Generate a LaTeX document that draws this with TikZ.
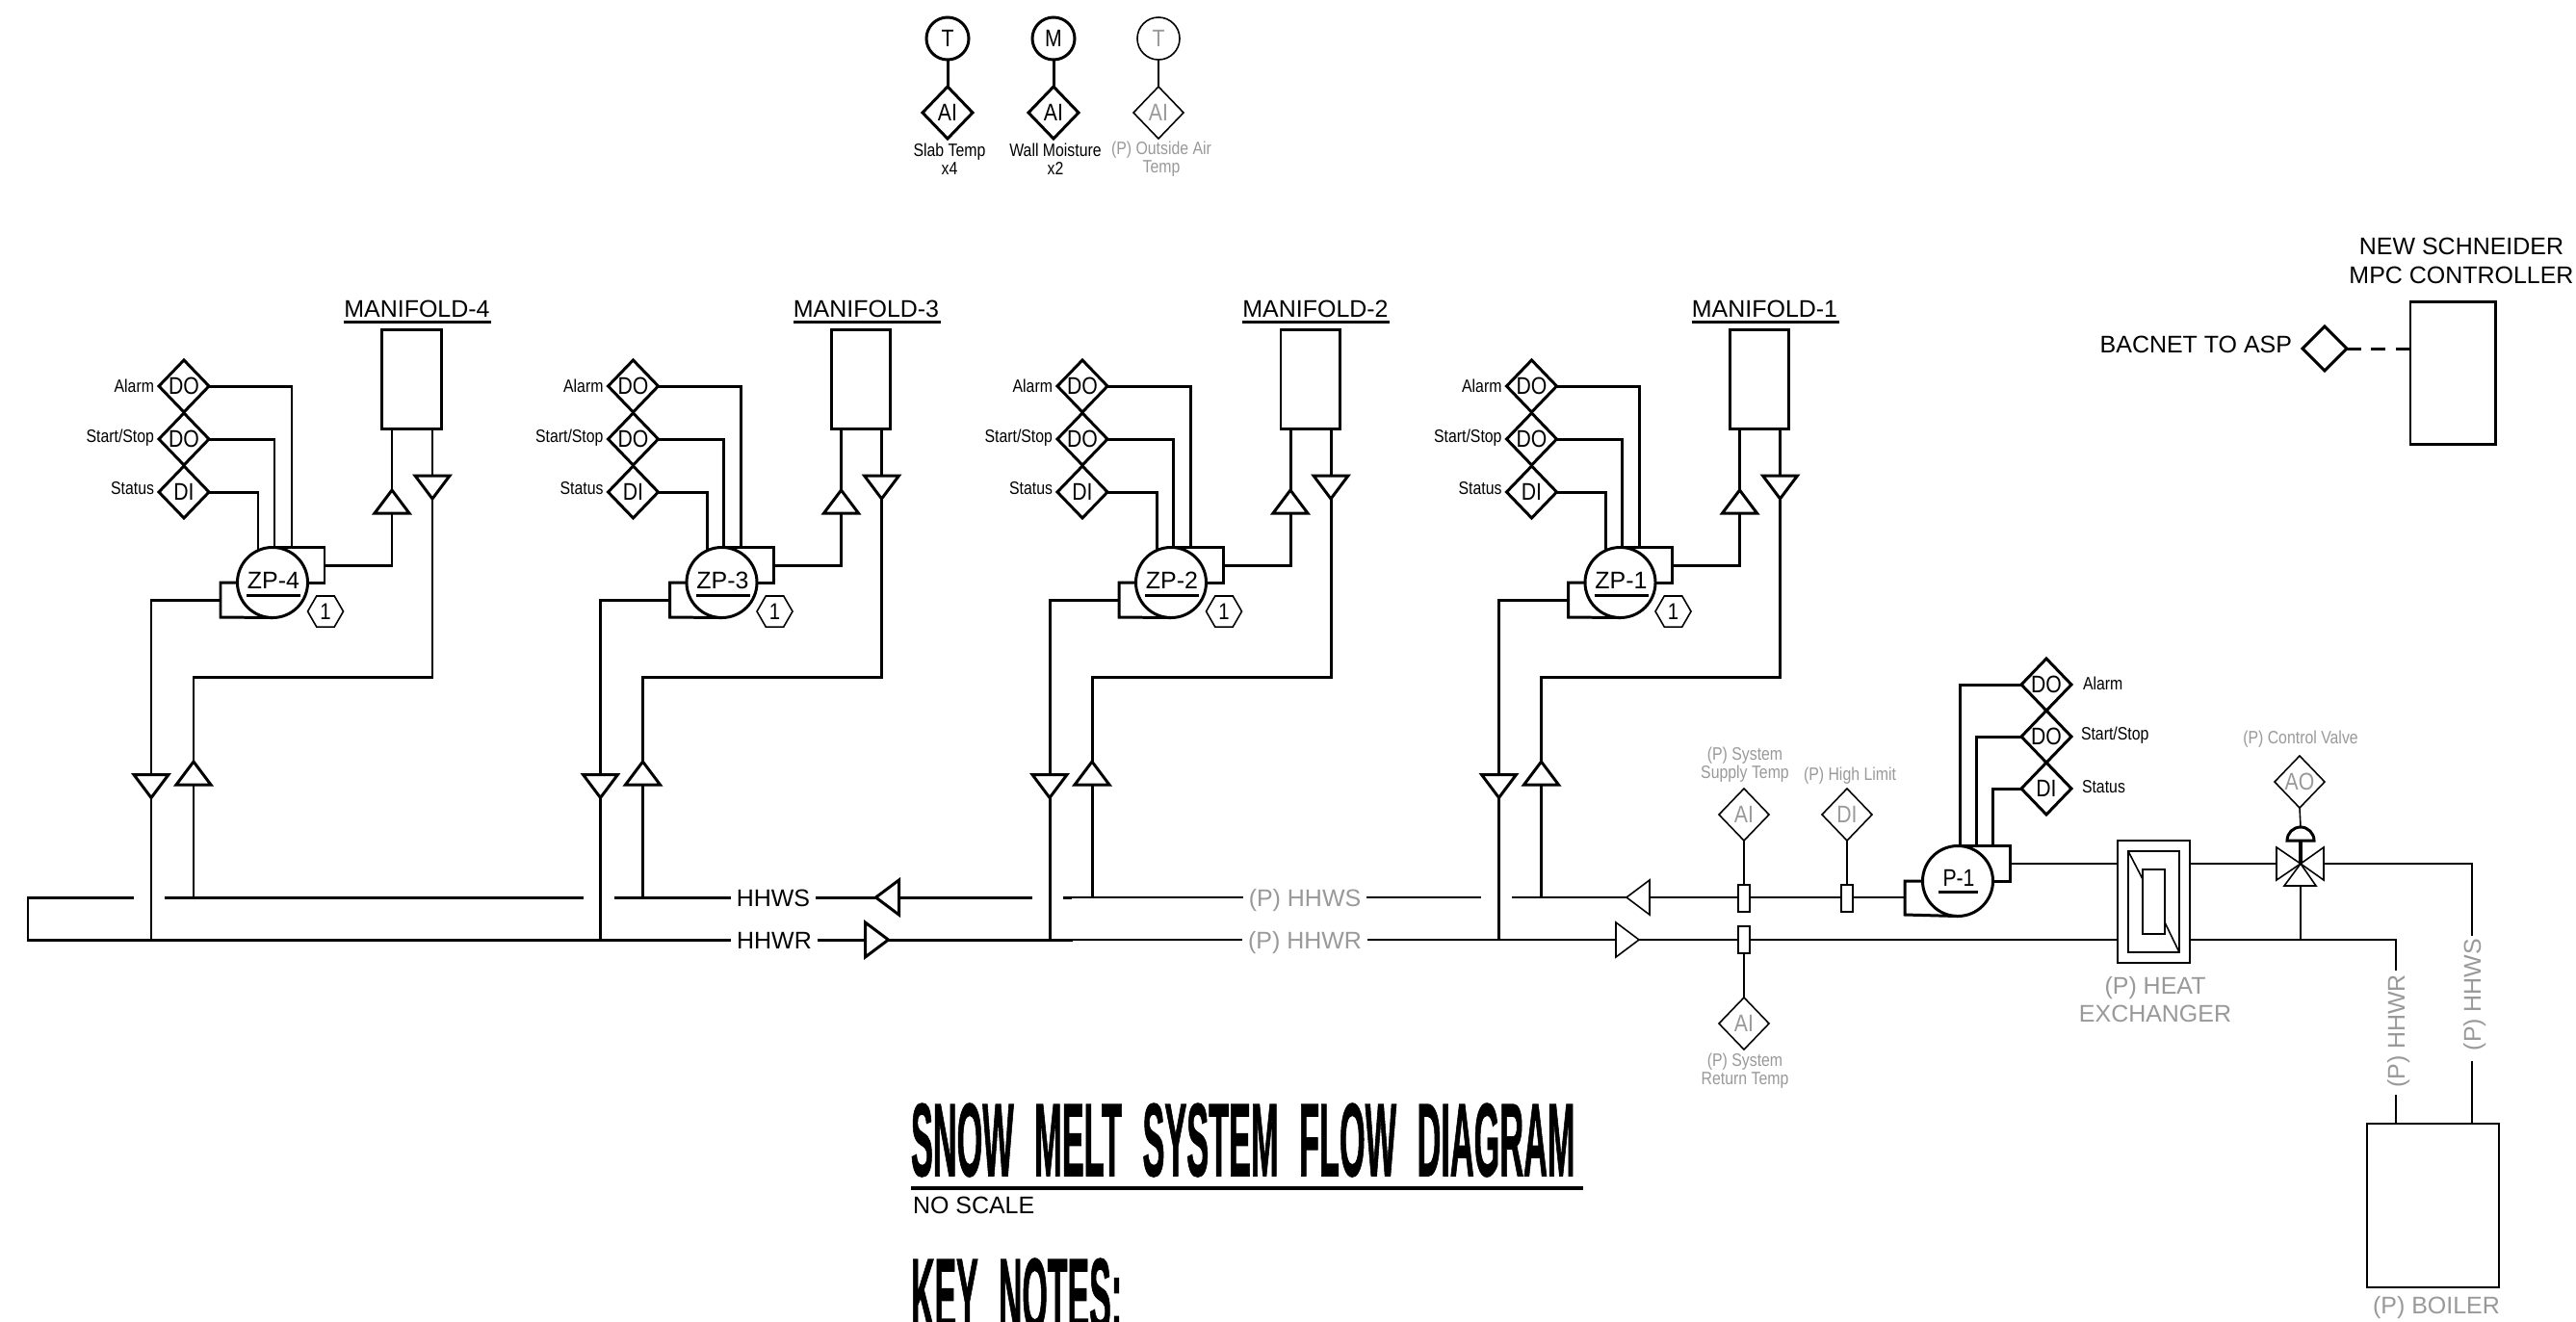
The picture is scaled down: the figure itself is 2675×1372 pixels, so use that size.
\documentclass[tikz,border=0pt]{standalone}
\usepackage{fontspec}
\setmainfont{Liberation Sans}
\newfontfamily\ttlfont[FakeBold=1.5]{Liberation Sans Bold}
\newfontfamily\nrwfont[FakeStretch=.85]{Liberation Sans}
\usetikzlibrary{shapes.geometric}
\definecolor{pgray}{HTML}{999999}
\tikzset{
  pipe/.style={line width=.85pt},
  pthin/.style={line width=.45pt},
  dgm/.style={diamond, draw, pipe, minimum width=.52cm, minimum height=.54cm,
    inner sep=0, outer sep=0, font=\nrwfont\fontsize{7.1}{8}\selectfont},
  dgmp/.style={dgm, pthin, text=pgray},
  inst/.style={circle, draw, pipe, minimum size=.44cm, inner sep=0, outer sep=0,
    font=\nrwfont\fontsize{7.1}{8}\selectfont},
  pmp/.style={circle, draw, pipe, minimum size=.73cm, inner sep=0, outer sep=0},
  box/.style={rectangle, draw, inner sep=0, outer sep=0},
  flg/.style={box, pthin, fill=white, minimum width=.12cm, minimum height=.28cm},
  txtl/.style={inner sep=0, outer sep=0, align=center,
    font=\fontsize{7.1}{8.4}\selectfont},
  txts/.style={inner sep=0, outer sep=0, align=center,
    font=\nrwfont\fontsize{5.3}{5.5}\selectfont},
  pipelbl/.style={txtl, inner xsep=.06cm},
  flowtri/.pic={\draw[fill=white] (0,-12) -- (18,12) -- (-18,12) -- cycle;}
}
\begin{document}
\begin{tikzpicture}[x=0.01cm, y=-0.01cm]
  \useasboundingbox (0,0) rectangle (2675,1372);

  % Sensors at the top
  \foreach \n/\x/\t/\a/\b in {t/984/T/Slab Temp/x4, m/1094/M/Wall Moisture/x2}{
    \node[inst] (snr\n) at (\x,40) {\t};
    \node[dgm] (ai\n) at (\x,117) {AI};
    \draw[pipe] (snr\n) -- (ai\n);
    \node[txts] (txt\n) at (\x+2,165) {\a\\\b};
  }
  \node[inst, pthin, text=pgray] (snro) at (1203,40) {T};
  \node[dgmp] (aio) at (1203,117) {AI};
  \draw[pthin] (snro) -- (aio);
  \node[txts, text=pgray] (txto) at (1206,165) {(P) Outside Air\\Temp};

  % Controller
  \node[txtl] (mpctxt) at (2556,271) {NEW SCHNEIDER\\MPC CONTROLLER};
  \node[box, pipe, minimum width=.88cm, minimum height=1.47cm] (mpc) at (2547,387.5) {};
  \node[dgm, minimum width=.46cm, minimum height=.46cm] (bac) at (2414,362) {};
  \node[txtl, anchor=east] (bactxt) at (2380,358) {BACNET TO ASP};
  \draw[pipe, dash pattern=on 4.2pt off 3pt] (bac.east) -- (bac.east -| mpc.west);

  % Zone pumps and manifolds
  \foreach \n/\x in {4/0, 3/466.5, 2/933, 1/1399.5}{
    \begin{scope}[shift={(\x,0)}]
      \node[txtl] (mftxt\n) at (433,321) {MANIFOLD-\n};
      \draw[pipe] (357,334) -- (510,334);
      \node[box, pipe, minimum width=.61cm, minimum height=1.02cm] (mf\n) at (427.5,394) {};
      % points
      \node[dgm] (doa\n) at (191,401) {DO};
      \node[dgm] (dos\n) at (191,456) {DO};
      \node[dgm] (dis\n) at (191,511) {DI};
      \node[txts, anchor=base east] (txa\n) at (160,407) {Alarm};
      \node[txts, anchor=base east] (txs\n) at (160,459) {Start/Stop};
      \node[txts, anchor=base east] (txd\n) at (160,513) {Status};
      % pump
      \node[pmp] (zp\n) at (283,605) {};
      \node[txtl] (zptxt\n) at (284,603) {ZP-\n};
      \draw[pipe] (256,618) -- (312,618);
      \node[regular polygon, regular polygon sides=6, draw, pthin, minimum size=.37cm,
        inner sep=0, outer sep=0, font=\nrwfont\fontsize{6.8}{7}\selectfont] (nt\n) at (338,635) {1};
      \draw[pipe] (doa\n.east) -| (303,569);
      \draw[pipe] (dos\n.east) -| (285,569);
      \draw[pipe] (dis\n.east) -| (268,571);
      \draw[pipe] (zp\n.north) -| (337,605) -- (zp\n.east);
      \draw[pipe] (zp\n.west) -| (229,641) -- (zp\n.south);
      % piping
      \draw[pipe] (337,587) -| (407,445);
      \draw[pipe] (449,445) |- (201,703) -- (201,932);
      \draw[pipe] (229,623) -| (157,976);
      \pic[pipe] at (407,521) {flowtri};
      \pic[pipe, rotate=180] at (449,506) {flowtri};
      \pic[pipe, rotate=180] at (157,816.5) {flowtri};
      \pic[pipe] at (201,803) {flowtri};
    \end{scope}
  }

  % Mains
  \node[pipelbl, anchor=base] (hws) at (803,941) {HHWS};
  \node[pipelbl, anchor=base] (hwr) at (804,985) {HHWR};
  \node[pipelbl, anchor=base, text=pgray] (phws) at (1355,941) {(P) HHWS};
  \node[pipelbl, anchor=base, text=pgray] (phwr) at (1355,985) {(P) HHWR};
  \coordinate (hwsend) at (29,932);
  \coordinate (hwrend) at (29,976);
  \draw[pipe] (139,932) -- (hwsend) -- (hwrend) -- (hwr.west |- hwrend);
  \draw[pipe] (171,932) -- (606,932);
  \draw[pipe] (638,932) -- (hws.west |- hwsend);
  \draw[pipe] (hws.east |- hwsend) -- (1072,932);
  \draw[pipe] (1104,932) -- (1113,932);
  \draw[pipe] (hwr.east |- hwrend) -- (1114,976);
  \draw[pthin] (1113,932) -- (phws.west |- hwsend);
  \draw[pthin] (phws.east |- hwsend) -- (1538,932);
  \draw[pthin] (1114,976) -- (phwr.west |- hwrend);
  \pic[pipe, rotate=90] at (921.5,932) {flowtri};
  \pic[pipe, rotate=-90] at (910.5,976) {flowtri};

  % Hot water pump
  \node[pmp] (p1) at (2033,915) {};
  \node[txtl] (p1txt) at (2034,912) {\nrwfont P-1};
  \draw[pipe] (2013,926) -- (2054,926);
  \node[dgm] (doap) at (2125,711) {DO};
  \node[dgm] (dosp) at (2125,765) {DO};
  \node[dgm] (disp) at (2125,819) {DI};
  \node[txts, anchor=base west] (txap) at (2163,716) {Alarm};
  \node[txts, anchor=base west] (txsp) at (2161,768) {Start/Stop};
  \node[txts, anchor=base west] (txdp) at (2162,823) {Status};
  \draw[pipe] (doap.west) -| (2035,878);
  \draw[pipe] (dosp.west) -| (2052,878);
  \draw[pipe] (disp.west) -| (2069,878);
  \draw[pipe] (p1.north) -| (2087,915) -- (p1.east);
  \draw[pipe] (p1.west) -| (1978,950) -- (p1.south);

  % Heat exchanger
  \node[box, pthin, minimum width=.75cm, minimum height=1.27cm] (hxo) at (2236.5,936.5) {};
  \node[box, pthin, minimum width=.53cm, minimum height=1.05cm] (hxm) at (2236.5,936.5) {};
  \node[box, pthin, minimum width=.23cm, minimum height=.67cm] (hxi) at (2236.5,936.5) {};
  \draw[pthin] (hxm.north west) -- (2225,913);
  \draw[pthin] (2248,958) -- (hxm.south east);
  \node[txtl, text=pgray] (hxtxt) at (2238,1038) {(P) HEAT\\EXCHANGER};

  % Field piping
  \coordinate (vlvc) at (2389,897);
  \coordinate (vlvb) at (2389,920);
  \coordinate (vlvt) at (2389,859);
  \draw[pthin] (2087,897) -- (hxo.west |- vlvc);
  \draw[pthin] (hxo.east |- vlvc) -- ++(90,0);
  \draw[pthin] (1570,932) -- (1978,932);
  \draw[pthin] (phwr.east |- hwrend) -- (hxo.west |- hwrend);
  \draw[pthin] (vlvb) -- (vlvb |- hwrend);
  \pic[pthin, rotate=90] at (1701,932) {flowtri};
  \pic[pthin, rotate=-90] at (1690,976) {flowtri};

  % Control valve
  \node[dgmp] (aop) at (2388,812) {AO};
  \node[txts, text=pgray] (cvtxt) at (2389,768) {(P) Control Valve};
  \draw[pthin] (aop.south) -- (vlvt);
  \draw[pthin] (vlvc) -- ++(-25,-17) -- ++(0,34) -- cycle;
  \draw[pthin] (vlvc) -- ++(24,-17) -- ++(0,34) -- cycle;
  \draw[pthin] (vlvc) -- (2405,920) -- (2372,920) -- cycle;
  \draw[pipe] (2375,873) arc[start angle=180, end angle=360, radius=14] -- cycle;
  \draw[pipe, line width=1.1pt] (2389,873) -- (vlvc);

  % Pipe sensors
  \node[flg] (fls) at (1811,933) {};
  \node[flg] (fld) at (1918,933) {};
  \node[flg] (flr) at (1811,976) {};
  \node[dgmp] (ais) at (1811,846) {AI};
  \node[dgmp] (did) at (1918,846) {DI};
  \node[dgmp] (air) at (1811,1063) {AI};
  \draw[pthin] (ais) -- (fls);
  \draw[pthin] (did) -- (fld);
  \draw[pthin] (flr) -- (air);
  \node[txts, text=pgray] (aistxt) at (1812,794) {(P) System\\Supply Temp};
  \node[txts, text=pgray] (didtxt) at (1921,806) {(P) High Limit};
  \node[txts, text=pgray] (airtxt) at (1812,1112) {(P) System\\Return Temp};

  % Boiler
  \node[box, pthin, minimum width=1.37cm, minimum height=1.70cm] (blr) at (2526.5,1252) {};
  \node[txtl, text=pgray] (blrtxt) at (2530,1358) {(P) BOILER};
  \node[txtl, rotate=90, anchor=base, text=pgray] (vhwr) at (2497,1071) {(P) HHWR};
  \node[txtl, rotate=90, anchor=base, text=pgray] (vhws) at (2576,1033) {(P) HHWS};
  \coordinate (hwst) at (2567,972);
  \coordinate (hwsb) at (2567,1102);
  \coordinate (hwrt) at (2488,1008);
  \coordinate (hwrb) at (2488,1137);
  \draw[pthin] (2413,897) -| (hwst);
  \draw[pthin] (hwsb) -- (hwsb |- blr.north);
  \draw[pthin] (hxo.east |- hwrend) -| (hwrt);
  \draw[pthin] (hwrb) -- (hwrb |- blr.north);

  % Title
  \node[inner sep=0, outer sep=0, anchor=north west] (ttl) at (946,1146)
    {\resizebox{6.89cm}{.75cm}{\ttlfont SNOW\hspace{.35em} MELT\hspace{.35em} SYSTEM\hspace{.35em} FLOW\hspace{.35em} DIAGRAM}};
  \draw[line width=1.2pt] (946,1234) -- (1644,1234);
  \node[txtl, anchor=north west] (nsc) at (948,1243) {NO SCALE};
  \node[inner sep=0, outer sep=0, anchor=north west] (key) at (946,1307)
    {\resizebox{2.19cm}{.75cm}{\ttlfont KEY\hspace{.35em} NOTES:}};
\end{tikzpicture}
\end{document}
